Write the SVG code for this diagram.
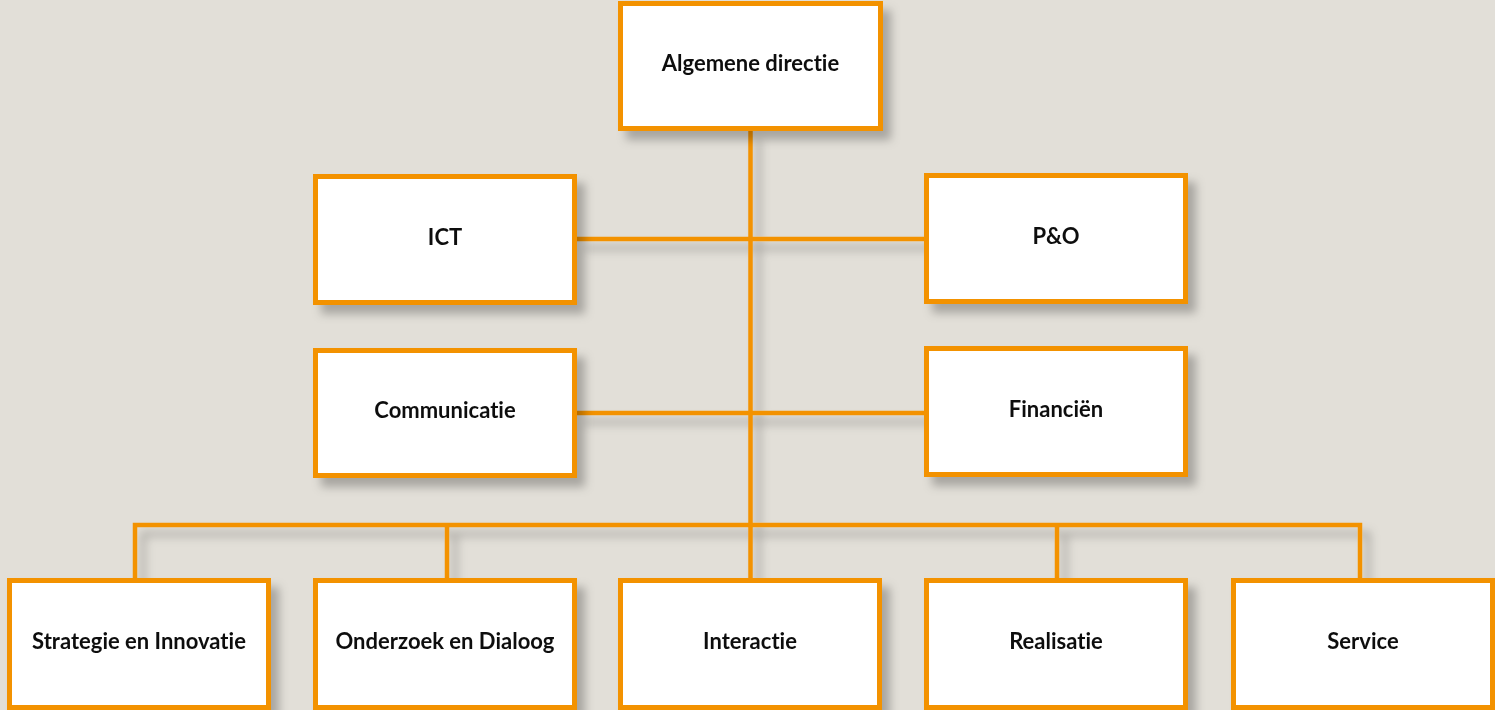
<svg xmlns="http://www.w3.org/2000/svg" width="1495" height="710" viewBox="0 0 1495 710">
  <defs>
    <filter id="shadow" x="-10%" y="-10%" width="130%" height="140%">
      <feDropShadow dx="8" dy="9" stdDeviation="5" flood-color="#000" flood-opacity="0.26"/>
    </filter>
    <style>
      .box { fill: #ffffff; stroke: #f39200; stroke-width: 5; }
      .line { fill: none; stroke: #f39200; stroke-width: 4.5; stroke-linejoin: miter; }
      .label { font-family: Lato, "Open Sans", "Liberation Sans", sans-serif; font-weight: 700; font-size: 22px; fill: #111111; text-anchor: middle; font-variant-ligatures: none; font-feature-settings: "liga" 0, "clig" 0; }
    </style>
  </defs>

  <rect width="1495" height="710" fill="#e2dfd8"/>

  <!-- connectors -->
  <g id="connectors" filter="url(#shadow)">
    <path class="line" d="M750.5,131 V578"/>
    <path class="line" d="M577,239 H924"/>
    <path class="line" d="M577,413 H924"/>
    <path class="line" d="M135,578 V525 H1360 V578"/>
    <path class="line" d="M447,525 V578"/>
    <path class="line" d="M1057,525 V578"/>
  </g>

  <!-- top level -->
  <g id="algemene-directie" filter="url(#shadow)">
    <rect class="box" x="620.5" y="3.5" width="260" height="125"/>
    <text class="label" x="750.5" y="71">Algemene directie</text>
  </g>

  <!-- staff units -->
  <g id="ict" filter="url(#shadow)">
    <rect class="box" x="315.5" y="176.5" width="259" height="126"/>
    <text class="label" x="445" y="244.5">ICT</text>
  </g>
  <g id="p-en-o" filter="url(#shadow)">
    <rect class="box" x="926.5" y="175.5" width="259" height="126"/>
    <text class="label" x="1056" y="243.5">P&amp;O</text>
  </g>
  <g id="communicatie" filter="url(#shadow)">
    <rect class="box" x="315.5" y="350.5" width="259" height="125"/>
    <text class="label" x="445" y="418">Communicatie</text>
  </g>
  <g id="financien" filter="url(#shadow)">
    <rect class="box" x="926.5" y="348.5" width="259" height="126"/>
    <text class="label" x="1056" y="416.5">Financiën</text>
  </g>

  <!-- line units -->
  <g id="strategie-en-innovatie" filter="url(#shadow)">
    <rect class="box" x="9.5" y="580.5" width="259" height="127"/>
    <text class="label" x="139" y="649">Strategie en Innovatie</text>
  </g>
  <g id="onderzoek-en-dialoog" filter="url(#shadow)">
    <rect class="box" x="315.5" y="580.5" width="259" height="127"/>
    <text class="label" x="445" y="649">Onderzoek en Dialoog</text>
  </g>
  <g id="interactie" filter="url(#shadow)">
    <rect class="box" x="620.5" y="580.5" width="259" height="127"/>
    <text class="label" x="750" y="649">Interactie</text>
  </g>
  <g id="realisatie" filter="url(#shadow)">
    <rect class="box" x="926.5" y="580.5" width="259" height="127"/>
    <text class="label" x="1056" y="649">Realisatie</text>
  </g>
  <g id="service" filter="url(#shadow)">
    <rect class="box" x="1233.5" y="580.5" width="259" height="127"/>
    <text class="label" x="1363" y="649">Service</text>
  </g>
</svg>
